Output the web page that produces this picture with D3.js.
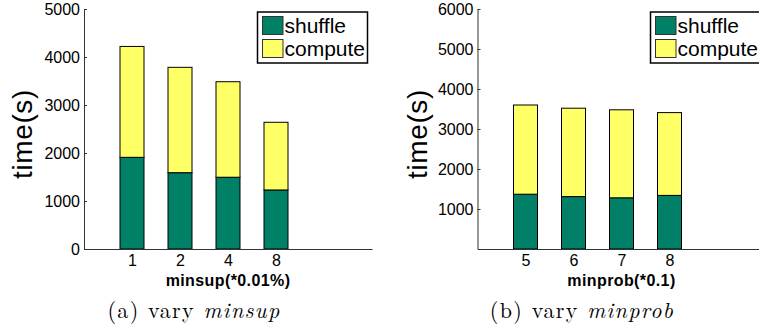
<!DOCTYPE html>
<html>
<head>
<meta charset="utf-8">
<script src="https://cdn.jsdelivr.net/npm/d3@7"></script>
<style>
  body { margin: 0; background: #fff; }
  svg { display: block; }
  text { font-family: "Liberation Sans", Arial, Helvetica, sans-serif; fill: #000; }
</style>
</head>
<body>
<svg id="chart" width="759" height="329"></svg>
<script>
const seriesNames = ["shuffle", "compute"];
const seriesColors = ["#008066", "#ffff66"];

const minsupLabels = ["1", "2", "4", "8"];
const minsupShuffle = [1910, 1590, 1495, 1230];
const minsupCompute = [2310, 2195, 1990, 1410];
const minsupTicks = [0, 1000, 2000, 3000, 4000, 5000];

const minprobLabels = ["5", "6", "7", "8"];
const minprobShuffle = [1370, 1310, 1280, 1340];
const minprobCompute = [2230, 2210, 2200, 2070];
const minprobTicks = [1000, 2000, 3000, 4000, 5000, 6000];

const svg = d3.select("#chart");

function drawPanel(opts) {
    const w = 288, h = 240;
    const g = svg.append("g").attr("transform", `translate(${opts.left},9)`);

    const x = d3.scaleLinear().domain([0, 6]).range([0, w]);
    const y = d3.scaleLinear().domain([0, opts.ymax]).range([h, 0]);

    const rows = opts.labels.map((l, i) => ({
        pos: i + 1,
        shuffle: opts.shuffle[i],
        compute: opts.compute[i]
    }));
    const stacked = d3.stack().keys(seriesNames)(rows);

    const barW = 24;
    g.selectAll("g.series")
        .data(stacked)
        .join("g")
        .attr("class", "series")
        .attr("fill", (d, i) => seriesColors[i])
        .selectAll("rect")
        .data(d => d)
        .join("rect")
        .attr("x", d => x(d.data.pos) - barW / 2)
        .attr("width", barW)
        .attr("y", d => y(d[1]))
        .attr("height", d => y(d[0]) - y(d[1]))
        .attr("stroke", "#000")
        .attr("stroke-width", 1);

    const yAxis = g.append("g")
        .call(d3.axisLeft(y).tickValues(opts.ticks).tickFormat(d3.format("d"))
            .tickSizeInner(-3).tickSizeOuter(0).tickPadding(4));
    yAxis.selectAll("text").style("font-size", "16px");

    const xAxis = g.append("g")
        .attr("transform", `translate(0,${h})`)
        .call(d3.axisBottom(x).tickValues([1, 2, 3, 4]).tickFormat((d, i) => opts.labels[i])
            .tickSizeInner(0).tickSizeOuter(0).tickPadding(6));
    xAxis.selectAll("text").style("font-size", "16px");
    g.selectAll(".domain").attr("stroke", "#333");
    g.selectAll(".tick line").attr("stroke", "#333");

    g.append("text")
        .attr("x", w / 2)
        .attr("y", h + 37)
        .attr("text-anchor", "middle")
        .style("font-size", "16px")
        .style("font-weight", "bold")
        .style("letter-spacing", "0.4px")
        .text(opts.xlabel);

    g.append("text")
        .attr("transform", `translate(${opts.ylabelX},125) rotate(-90)`)
        .attr("text-anchor", "middle")
        .style("font-size", "28px")
        .style("letter-spacing", "0.6px")
        .text("time(s)");

    // legend
    const lg = g.append("g").attr("transform", `translate(${opts.legendX},3)`);
    lg.append("rect")
        .attr("width", 110).attr("height", 51)
        .attr("fill", "#fff").attr("stroke", "#000").attr("stroke-width", 1.5);
    seriesNames.forEach((name, i) => {
        lg.append("rect")
            .attr("x", 5).attr("y", 4.5 + i * 23)
            .attr("width", 20.5).attr("height", 18)
            .attr("fill", seriesColors[i]).attr("stroke", "#333").attr("stroke-width", 1);
        lg.append("text")
            .attr("x", 27).attr("y", 21 + i * 23)
            .style("font-size", "21px")
            .text(name);
    });
}

drawPanel({
    left: 84, ymax: 5000, ticks: minsupTicks,
    labels: minsupLabels, shuffle: minsupShuffle, compute: minsupCompute,
    xlabel: "minsup(*0.01%)", ylabelX: -52, legendX: 173.5
});
drawPanel({
    left: 477.5, ymax: 6000, ticks: minprobTicks,
    labels: minprobLabels, shuffle: minprobShuffle, compute: minprobCompute,
    xlabel: "minprob(*0.1)", ylabelX: -51, legendX: 173
});

// captions
const caps = [
    { x: 194, roman: "(a) vary ", ital: "minsup" },
    { x: 582, roman: "(b) vary ", ital: "minprob" }
];
caps.forEach(c => {
    const t = svg.append("text")
        .attr("x", c.x).attr("y", 318)
        .attr("text-anchor", "middle")
        .style("font-family", "'Latin Modern Roman', 'Liberation Serif', 'DejaVu Serif', serif")
        .style("font-size", "22px")
        .style("letter-spacing", "1.3px");
    t.append("tspan").text(c.roman);
    t.append("tspan").style("font-style", "italic").text(c.ital);
});
</script>
</body>
</html>
